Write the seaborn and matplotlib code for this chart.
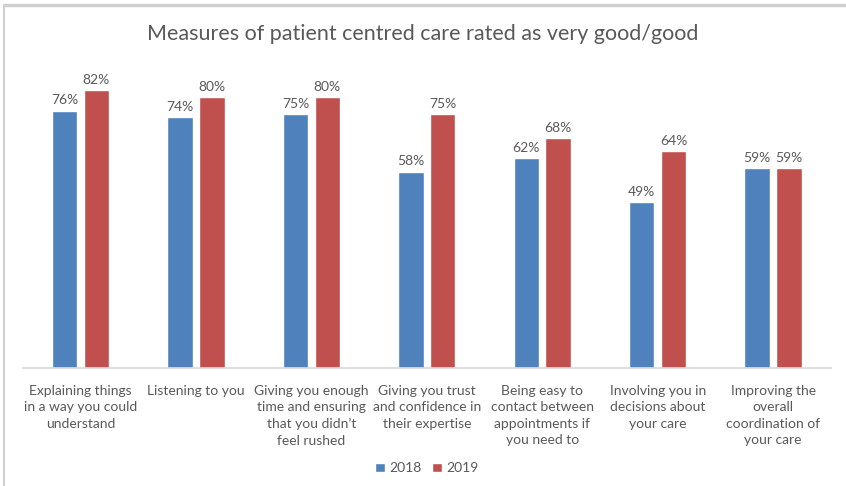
import matplotlib
matplotlib.use("Agg")
import matplotlib.pyplot as plt
import pandas as pd
import seaborn as sns
from matplotlib.lines import Line2D

categories = [
    "Explaining things\nin a way you could\nunderstand",
    "Listening to you",
    "Giving you enough\ntime and ensuring\nthat you didn\u2019t\nfeel rushed",
    "Giving you trust\nand confidence in\ntheir expertise",
    "Being easy to\ncontact between\nappointments if\nyou need to",
    "Involving you in\ndecisions about\nyour care",
    "Improving the\noverall\ncoordination of\nyour care",
]
values_2018 = [76, 74, 75, 58, 62, 49, 59]
values_2019 = [82, 80, 80, 75, 68, 64, 59]
years = ["2018", "2019"]
colors = ["#4F81BD", "#C0504D"]

df = pd.DataFrame({
    "category": categories * 2,
    "year": [years[0]] * len(categories) + [years[1]] * len(categories),
    "value": values_2018 + values_2019,
})

sns.set_theme(style="white")
plt.rcParams["font.family"] = ["Lato", "DejaVu Sans"]
text_color = "#595959"

fig = plt.figure(figsize=(8.46, 4.86), dpi=100)
ax = fig.add_axes([0.027, 0.243, 0.955, 0.627])

sns.barplot(data=df, x="category", y="value", hue="year", palette=colors,
            saturation=1, width=0.55, gap=0.2, ax=ax, legend=True)

for cont in ax.containers:
    ax.bar_label(cont, labels=[f"{v:.0f}%" for v in cont.datavalues],
                 padding=3, fontsize=10, color=text_color)

ax.set_ylim(0, 90)
ax.set_xlabel("")
ax.set_ylabel("")
ax.set_yticks([])
ax.tick_params(axis="x", length=0, labelsize=10, colors=text_color, pad=12)
for lbl in ax.get_xticklabels():
    lbl.set_linespacing(1.45)
for s in ["top", "right", "left"]:
    ax.spines[s].set_visible(False)
ax.spines["bottom"].set_color("#d9d9d9")

ax.legend(loc="center", bbox_to_anchor=(0.5, -0.33), ncol=2, frameon=False,
          fontsize=10, labelcolor=text_color, handlelength=0.7, handleheight=0.7,
          handletextpad=0.3, columnspacing=0.8)

fig.suptitle("Measures of patient centred care rated as very good/good",
             y=0.95, fontsize=15.5, color=text_color)

# outer chart frame (top and left edges visible in the screenshot)
fig.add_artist(Line2D([0.005, 1], [0.99, 0.99], color="#d0d0d0", lw=2.5,
                      transform=fig.transFigure))
fig.add_artist(Line2D([0.005, 0.005], [0, 0.99], color="#d0d0d0", lw=1.5,
                      transform=fig.transFigure))

fig.savefig("out.png", dpi=100)
